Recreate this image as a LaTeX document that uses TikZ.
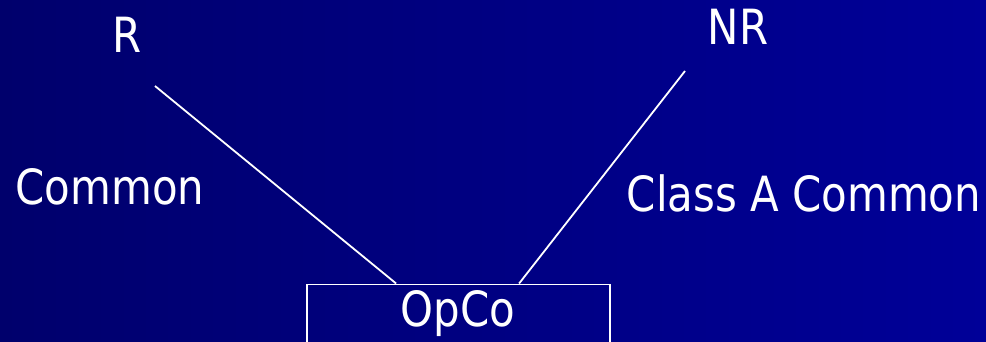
\documentclass[tikz,border=0pt]{standalone}
\usepackage{fontspec}
\setmainfont[FakeStretch=0.96]{DejaVu Sans Condensed}
\usetikzlibrary{calc}
\definecolor{bgleft}{RGB}{0,0,108}
\definecolor{bgright}{RGB}{0,0,152}
\tikzset{
  lbl/.style={text=white, inner sep=0pt, font=\fontsize{48.5}{58}\selectfont},
  link/.style={draw=white, line width=1.8pt},
  frame/.style={draw=white, line width=1.8pt, minimum width=303pt, minimum height=110pt, inner sep=0pt, anchor=north}
}
\begin{document}
\begin{tikzpicture}[x=1pt, y=-1pt]
  \useasboundingbox (0,0) rectangle (986,342);
  \clip (0,0) rectangle (986,342);
  \shade[left color=bgleft, right color=bgright] (0,0) rectangle (986,342);

  % holders
  \node[lbl] (r) at (127,35) {R};
  \node[lbl] (nr) at (738,27) {NR};

  % share classes
  \node[lbl] (common) at (110,187) {Common};
  \node[lbl] (classa) at (804,193) {Class A Common};

  % operating company
  \node[frame] (opco) at (458.5,283.5) {};
  \node[lbl] (opcotext) at (458,314) {OpCo};

  % free ends of the ownership lines
  \coordinate (rfoot) at (155,86);
  \coordinate (nrfoot) at (685,71);

  \draw[link] (rfoot) -- ($(opco.north west)+(90,0)$);
  \draw[link] (nrfoot) -- ($(opco.north west)+(213,0)$);
\end{tikzpicture}
\end{document}
